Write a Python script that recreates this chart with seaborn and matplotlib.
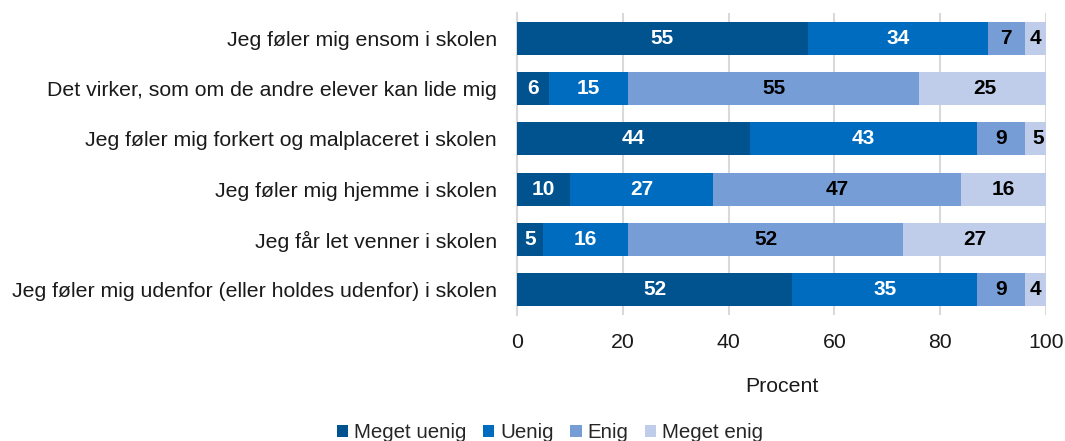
import numpy as np
import pandas as pd
import matplotlib
matplotlib.use("Agg")
import matplotlib.pyplot as plt
from matplotlib.patches import Patch
import seaborn as sns

categories = [
    "Jeg føler mig ensom i skolen",
    "Det virker, som om de andre elever kan lide mig",
    "Jeg føler mig forkert og malplaceret i skolen",
    "Jeg føler mig hjemme i skolen",
    "Jeg får let venner i skolen",
    "Jeg føler mig udenfor (eller holdes udenfor) i skolen",
]
series_names = ["Meget uenig", "Uenig", "Enig", "Meget enig"]
meget_uenig = [55, 6, 44, 10, 5, 52]
uenig = [34, 15, 43, 27, 16, 35]
enig = [7, 55, 9, 47, 52, 9]
meget_enig = [4, 25, 5, 16, 27, 4]
x_ticks = [0, 20, 40, 60, 80, 100]

colors = ["#00538F", "#006CBF", "#769DD6", "#BFCDEA"]
text_colors = ["white", "white", "black", "black"]
FS = 15.3

sns.set_theme(style="white")
plt.rcParams["font.family"] = ["Liberation Sans", "DejaVu Sans"]

values = np.array([meget_uenig, uenig, enig, meget_enig], dtype=float)
cum = np.cumsum(values, axis=0)
starts = cum - values

fig = plt.figure(figsize=(10.65, 4.41), dpi=100)
ax = fig.add_axes([517 / 1065, 1 - 315 / 441, (1046 - 517) / 1065, (315 - 13) / 441])

# stacked bars: draw cumulative totals from the outermost layer inwards
for i in range(len(series_names) - 1, -1, -1):
    df = pd.DataFrame({"kategori": categories, "værdi": cum[i]})
    sns.barplot(data=df, x="værdi", y="kategori", orient="h", color=colors[i],
                width=0.65, saturation=1, linewidth=0, edgecolor="none",
                ax=ax, zorder=3)

for i in range(len(series_names)):
    for j in range(len(categories)):
        v = values[i, j]
        cx = min(starts[i, j] + v / 2, 100)
        ax.text(cx, j, f"{int(v)}", ha="center", va="center",
                color=text_colors[i], fontsize=15, fontweight="bold", zorder=4)

ax.set_xlim(0, 100)
ax.set_ylim(len(categories) - 0.5, -0.5)
ax.set_xticks(x_ticks)
ax.set_xticklabels([str(t) for t in x_ticks], fontsize=FS, color="#1a1a1a")
ax.tick_params(axis="x", length=0, pad=13)
ax.tick_params(axis="y", length=0, pad=14.5, labelsize=FS, labelcolor="#1a1a1a")
ax.set_ylabel("")
ax.set_xlabel("Procent", fontsize=FS, color="#1a1a1a", labelpad=18)
ax.xaxis.grid(True, color="#D9D9D9", linewidth=1.5, zorder=0)
ax.yaxis.grid(False)
for s in ["top", "right", "bottom"]:
    ax.spines[s].set_visible(False)
ax.spines["left"].set_color("#D9D9D9")
ax.spines["left"].set_linewidth(1.5)

handles = [Patch(facecolor=c, edgecolor="none") for c in colors]
fig.legend(handles, series_names, loc="center", ncol=4,
           bbox_to_anchor=(550 / 1065, 1 - 433 / 441), frameon=False,
           fontsize=14.8, handlelength=0.55, handleheight=0.55,
           handletextpad=0.3, columnspacing=0.8)

fig.savefig("out.png", dpi=100)
